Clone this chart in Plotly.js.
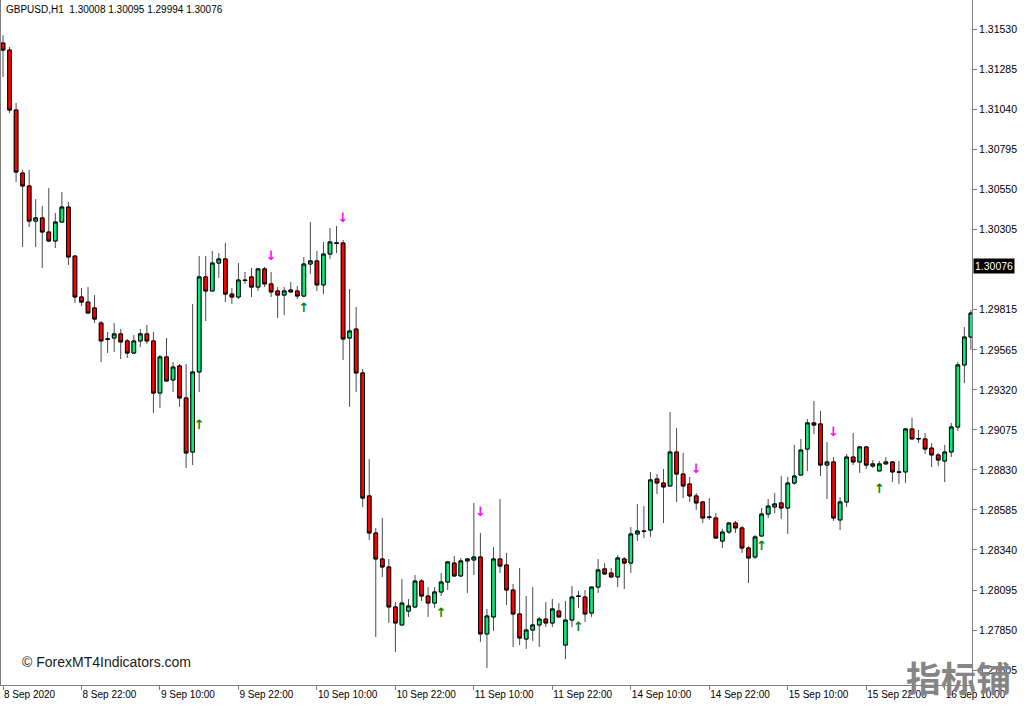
<!DOCTYPE html>
<html>
<head>
<meta charset="utf-8">
<script src="https://cdn.plot.ly/plotly-3.0.1.min.js"></script>
<style>
html,body{margin:0;padding:0;background:#fff;}
#chart{width:1024px;height:705px;}
</style>
</head>
<body>
<div id="chart"></div>
<script>
// GBPUSD H1 hourly candles, 8 Sep 2020 10:00 onwards (bar index 0..148)
const opens = [
1.31444,1.31401,1.31034,1.30648,1.30569,1.30354,1.30373,1.30287,1.30232,1.30348,
1.30440,1.30140,1.29889,1.29858,1.29822,1.29730,1.29632,1.29638,1.29663,1.29620,
1.29546,1.29620,1.29663,1.29620,1.29301,1.29522,1.29381,1.29467,1.29271,1.28940,
1.29430,1.30012,1.29926,1.30097,1.30122,1.29907,1.29889,1.29993,1.30012,1.29950,
1.30061,1.29969,1.29926,1.29901,1.29932,1.29926,1.29895,1.30091,1.30110,1.29963,
1.30152,1.30220,1.30220,1.29638,1.29693,1.29424,1.28671,1.28444,1.28285,1.28236,
1.27991,1.27881,1.27966,1.27991,1.28150,1.28058,1.28015,1.28083,1.28144,1.28260,
1.28181,1.28273,1.28279,1.28297,1.27826,1.27930,1.28285,1.28248,1.28095,1.27948,
1.27795,1.27850,1.27881,1.27917,1.27893,1.27966,1.27758,1.27911,1.28058,1.28052,
1.27954,1.28113,1.28224,1.28199,1.28175,1.28285,1.28260,1.28438,1.28456,1.28462,
1.28775,1.28750,1.28732,1.28940,1.28805,1.28744,1.28671,1.28634,1.28542,1.28536,
1.28395,1.28450,1.28505,1.28475,1.28352,1.28297,1.28426,1.28560,1.28603,1.28628,
1.28597,1.28750,1.28799,1.28958,1.29118,1.29112,1.28860,1.28879,1.28524,1.28634,
1.28909,1.28879,1.28971,1.28854,1.28824,1.28867,1.28879,1.28818,1.28818,1.29081,
1.29020,1.29020,1.28964,1.28922,1.28885,1.28940,1.29093,1.29473,1.29644
];
const highs = [
1.31493,1.31420,1.31077,1.30667,1.30667,1.30489,1.30446,1.30556,1.30403,1.30532,
1.30471,1.30141,1.29944,1.29950,1.29901,1.29742,1.29675,1.29730,1.29693,1.29632,
1.29656,1.29693,1.29718,1.29675,1.29534,1.29638,1.29491,1.29479,1.29479,1.29846,
1.30140,1.30140,1.30171,1.30158,1.30220,1.29944,1.30097,1.30042,1.30067,1.30067,
1.30073,1.30042,1.29950,1.29950,1.29981,1.29956,1.30134,1.30348,1.30171,1.30226,
1.30312,1.30324,1.30238,1.29938,1.29828,1.29448,1.28897,1.28475,1.28536,1.28285,
1.28022,1.28162,1.28040,1.28187,1.28162,1.28113,1.28113,1.28199,1.28273,1.28303,
1.28291,1.28291,1.28628,1.28444,1.27979,1.28358,1.28652,1.28322,1.28132,1.28230,
1.28058,1.28113,1.27930,1.28022,1.28040,1.28015,1.28028,1.28120,1.28089,1.28095,
1.28115,1.28285,1.28260,1.28230,1.28309,1.28297,1.28481,1.28622,1.28609,1.28818,
1.28805,1.28836,1.29185,1.29087,1.28934,1.28787,1.28689,1.28638,1.28658,1.28566,
1.28469,1.28511,1.28518,1.28487,1.28364,1.28432,1.28597,1.28652,1.28689,1.28793,
1.28787,1.28983,1.29020,1.29142,1.29252,1.29191,1.29001,1.28909,1.28664,1.28928,
1.29056,1.28973,1.28973,1.28891,1.28885,1.28909,1.28885,1.28885,1.29087,1.29148,
1.29075,1.29056,1.28995,1.28934,1.28983,1.29118,1.29491,1.29705,1.29809
];
const lows = [
1.31236,1.31016,1.30593,1.30195,1.30318,1.30195,1.30067,1.30226,1.30189,1.30346,
1.30085,1.29852,1.29834,1.29789,1.29730,1.29491,1.29546,1.29552,1.29509,1.29516,
1.29540,1.29583,1.29601,1.29179,1.29209,1.29369,1.29307,1.29216,1.28842,1.28860,
1.29307,1.29742,1.29924,1.30005,1.29858,1.29846,1.29877,1.29969,1.29889,1.29926,
1.29950,1.29889,1.29760,1.29779,1.29918,1.29877,1.29887,1.30030,1.29926,1.29907,
1.30122,1.30158,1.29503,1.29216,1.29307,1.28603,1.28401,1.27807,1.28175,1.27893,
1.27715,1.27875,1.27930,1.27985,1.28028,1.27930,1.27985,1.28058,1.28095,1.28175,
1.28175,1.28077,1.28187,1.27777,1.27617,1.27844,1.28199,1.28003,1.27746,1.27758,
1.27734,1.27783,1.27746,1.27868,1.27868,1.27928,1.27672,1.27868,1.27985,1.27899,
1.27930,1.28077,1.28191,1.28169,1.28113,1.28101,1.28199,1.28395,1.28413,1.28420,
1.28683,1.28505,1.28730,1.28634,1.28658,1.28634,1.28585,1.28505,1.28524,1.28411,
1.28352,1.28438,1.28444,1.28322,1.28138,1.28285,1.28420,1.28536,1.28566,1.28530,
1.28438,1.28738,1.28797,1.28824,1.29050,1.28793,1.28652,1.28518,1.28462,1.28603,
1.28860,1.28811,1.28836,1.28842,1.28822,1.28865,1.28756,1.28744,1.28750,1.29018,
1.28995,1.28928,1.28848,1.28854,1.28756,1.28909,1.29069,1.29362,1.29565
];
const closes = [
1.31401,1.31034,1.30654,1.30569,1.30354,1.30373,1.30287,1.30232,1.30348,1.30440,
1.30134,1.29889,1.29858,1.29791,1.29754,1.29620,1.29631,1.29663,1.29614,1.29546,
1.29620,1.29663,1.29620,1.29301,1.29522,1.29375,1.29460,1.29271,1.28934,1.29430,
1.30012,1.29926,1.30097,1.30122,1.29907,1.29889,1.29993,1.29990,1.29950,1.30061,
1.29969,1.29920,1.29901,1.29926,1.29920,1.29895,1.30091,1.30110,1.29963,1.30152,
1.30226,1.30218,1.29632,1.29681,1.29424,1.28658,1.28444,1.28285,1.28236,1.27991,
1.27893,1.28015,1.27997,1.28150,1.28058,1.28015,1.28083,1.28144,1.28267,1.28181,
1.28273,1.28285,1.28297,1.27826,1.27936,1.28285,1.28242,1.28095,1.27948,1.27801,
1.27850,1.27881,1.27917,1.27893,1.27979,1.27930,1.27911,1.28052,1.28056,1.27948,
1.28113,1.28218,1.28193,1.28175,1.28291,1.28260,1.28438,1.28456,1.28454,1.28769,
1.28750,1.28726,1.28940,1.28805,1.28732,1.28671,1.28628,1.28536,1.28540,1.28413,
1.28450,1.28505,1.28475,1.28352,1.28291,1.28420,1.28560,1.28609,1.28622,1.28597,
1.28750,1.28793,1.28952,1.29118,1.29105,1.28860,1.28879,1.28536,1.28634,1.28909,
1.28879,1.28971,1.28860,1.28867,1.28867,1.28879,1.28818,1.28816,1.29081,1.29020,
1.29022,1.28958,1.28922,1.28891,1.28940,1.29093,1.29473,1.29644,1.29791
];

// time-axis labels (every 12 bars)
const timeTickIdx = [0,12,24,36,48,60,72,84,96,108,120,132,144];
const timeTickText = ["8 Sep 2020","8 Sep 22:00","9 Sep 10:00","9 Sep 22:00","10 Sep 10:00",
  "10 Sep 22:00","11 Sep 10:00","11 Sep 22:00","14 Sep 10:00","14 Sep 22:00",
  "15 Sep 10:00","15 Sep 22:00","16 Sep 10:00"];

// price-axis labels
const priceTicks = [1.31530,1.31285,1.31040,1.30795,1.30550,1.30305,1.29815,1.29565,
  1.29320,1.29075,1.28830,1.28585,1.28340,1.28095,1.27850,1.27605];

// indicator signals
const sellIdx = [41,52,73,106,127];
const sellPrice = [1.30134,1.30367,1.28566,1.28830,1.29056];
const buyIdx = [30,46,67,88,116,134];
const buyPrice = [1.29099,1.29816,1.27948,1.27862,1.28358,1.28707];

// header
const symbolName = "GBPUSD,H1";
const lastOHLC = [1.30008, 1.30095, 1.29994, 1.30076];
const currentPrice = 1.30076;

const idx = opens.map((_, i) => i);
const bodyHigh = opens.map((o, i) => Math.max(o, closes[i]));
const bodyLow = opens.map((o, i) => Math.min(o, closes[i]));

const GREEN = '#00EE7A', RED = '#FF0000';

const wickTrace = {
  type: 'candlestick', x: idx, open: opens, high: highs, low: lows, close: closes,
  increasing: {line: {color: '#4a4a4a', width: 1}, fillcolor: GREEN},
  decreasing: {line: {color: '#4a4a4a', width: 1}, fillcolor: RED},
  hoverinfo: 'skip', showlegend: false
};
const bodyTrace = {
  type: 'candlestick', x: idx, open: opens, high: bodyHigh, low: bodyLow, close: closes,
  increasing: {line: {color: '#000000', width: 1}, fillcolor: GREEN},
  decreasing: {line: {color: '#000000', width: 1}, fillcolor: RED},
  hoverinfo: 'skip', showlegend: false
};
const sellTrace = {
  type: 'scatter', mode: 'text', x: sellIdx, y: sellPrice,
  text: sellIdx.map(() => '↓'), textposition: 'middle center',
  textfont: {family: 'DejaVu Sans', size: 13, color: '#FF00FF', weight: 'bold'},
  hoverinfo: 'skip', showlegend: false, cliponaxis: false
};
const buyTrace = {
  type: 'scatter', mode: 'text', x: buyIdx, y: buyPrice,
  text: buyIdx.map(() => '↑'), textposition: 'middle center',
  textfont: {family: 'DejaVu Sans', size: 13, color: '#0c850c', weight: 'bold'},
  hoverinfo: 'skip', showlegend: false, cliponaxis: false
};

const layout = {
  width: 1024, height: 705,
  margin: {l: 1, r: 52, t: 0, b: 20, pad: 0},
  paper_bgcolor: '#ffffff', plot_bgcolor: '#ffffff',
  showlegend: false, boxgap: 0.2,
  font: {family: 'Liberation Sans, Arial, sans-serif', size: 10, color: '#000'},
  xaxis: {
    range: [-0.306, 148.17], rangeslider: {visible: false},
    tickmode: 'array', tickvals: timeTickIdx, ticktext: timeTickText,
    ticklabelposition: 'outside right',
    showgrid: false, zeroline: false, showline: true, linecolor: '#7f7f7f', linewidth: 1,
    ticks: 'outside', ticklen: 4, tickcolor: '#7f7f7f',
    tickfont: {family: 'Liberation Sans, Arial, sans-serif', size: 10, color: '#000'},
    fixedrange: true
  },
  yaxis: {
    side: 'right', range: [1.275133, 1.317076],
    tickmode: 'array', tickvals: priceTicks, ticktext: priceTicks.map(v => v.toFixed(5)),
    showgrid: false, zeroline: false, showline: true, mirror: true,
    linecolor: '#7f7f7f', linewidth: 1,
    ticks: 'outside', ticklen: 4, tickcolor: '#7f7f7f',
    tickfont: {family: 'Liberation Sans, Arial, sans-serif', size: 10.5, color: '#000'},
    fixedrange: true
  },
  annotations: [
    {xref: 'paper', yref: 'paper', x: 0.003, y: 1 - 10/685, xanchor: 'left', yanchor: 'middle',
     text: symbolName + '\u00a0\u00a0' + lastOHLC.map(v => v.toFixed(5)).join(' '),
     showarrow: false, font: {family: 'Liberation Sans, Arial, sans-serif', size: 10, color: '#000'}},
    {xref: 'paper', yref: 'y', x: 1, y: currentPrice, xanchor: 'left', yanchor: 'middle', xshift: 1,
     text: currentPrice.toFixed(5), showarrow: false, bgcolor: '#000000', borderpad: 1,
     font: {family: 'Liberation Sans, Arial, sans-serif', size: 10.5, color: '#ffffff'}},
    {xref: 'paper', yref: 'paper', x: 19/971, y: 1 - 662/685, xanchor: 'left', yanchor: 'middle',
     text: '© ForexMT4Indicators.com', showarrow: false,
     font: {family: 'Liberation Sans, Arial, sans-serif', size: 14, color: '#1a1a1a'}},
    {xref: 'paper', yref: 'paper', x: 957/971, y: 1 - 703/685, xanchor: 'center', yanchor: 'bottom',
     text: '<b>指标铺</b>', showarrow: false, borderpad: 0,
     font: {family: 'Noto Sans CJK SC', size: 35, color: '#858585'}}
  ]
};

Plotly.newPlot('chart', [wickTrace, bodyTrace, sellTrace, buyTrace], layout,
  {displayModeBar: false, staticPlot: true});
</script>
</body>
</html>
